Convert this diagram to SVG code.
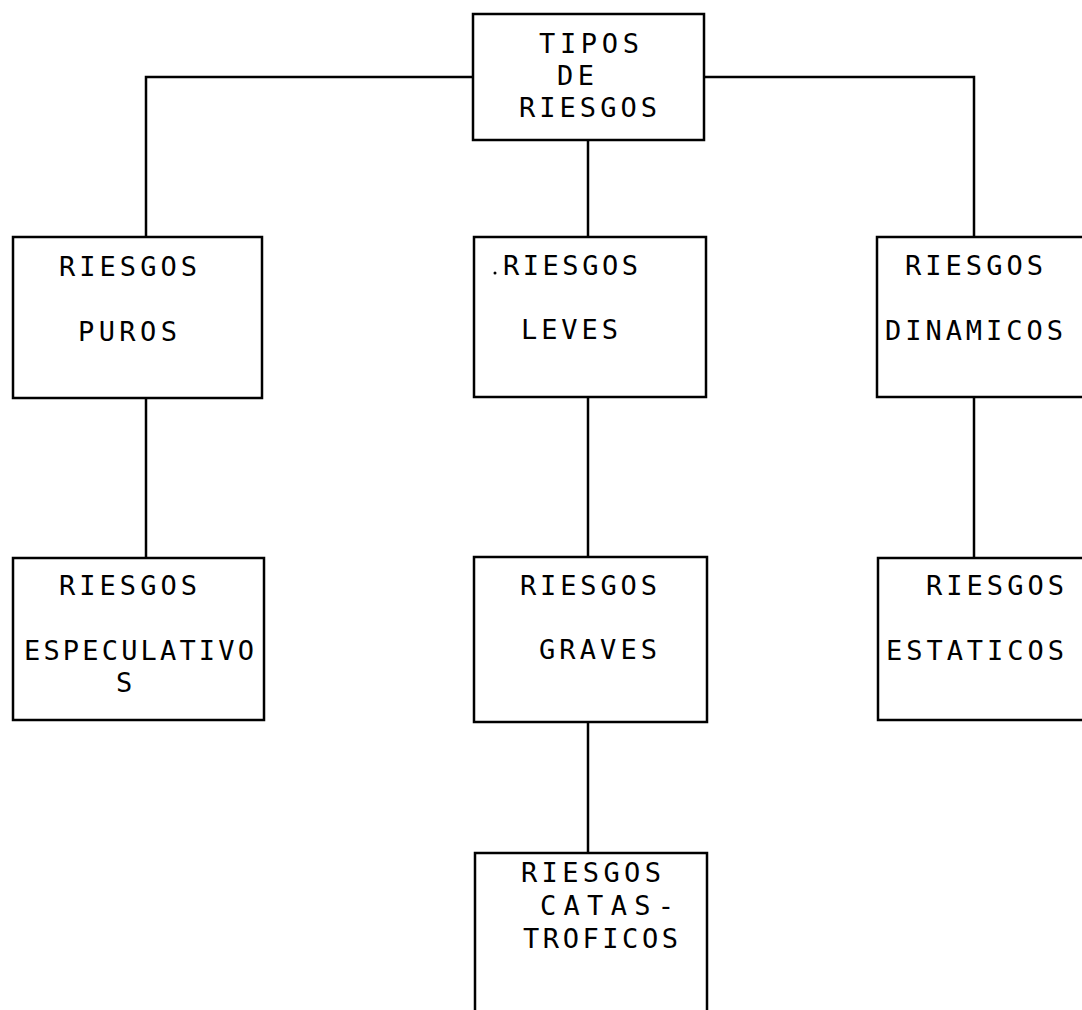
<svg xmlns="http://www.w3.org/2000/svg" width="1082" height="1010" viewBox="0 0 1082 1010">
  <style>
    .box { fill: #ffffff; stroke: #000000; stroke-width: 2.5; }
    .link { fill: none; stroke: #000000; stroke-width: 2.5; }
    .lbl { font-family: "DejaVu Sans Mono", "Liberation Mono", monospace; font-size: 27px; fill: #000000; }
  </style>
  <rect x="0" y="0" width="1082" height="1010" fill="#ffffff"/>

  <!-- connectors -->
  <g id="connectors">
    <polyline class="link" points="473,77 146,77 146,237"/>
    <polyline class="link" points="704,77 974,77 974,237"/>
    <line class="link" x1="588" y1="140" x2="588" y2="237"/>
    <line class="link" x1="146" y1="398" x2="146" y2="558"/>
    <line class="link" x1="588" y1="397" x2="588" y2="557"/>
    <line class="link" x1="974" y1="397" x2="974" y2="558"/>
    <line class="link" x1="588" y1="722" x2="588" y2="853"/>
  </g>

  <!-- root -->
  <g id="tipos-de-riesgos">
    <rect class="box" x="473" y="14" width="231" height="126"/>
    <text class="lbl" x="539" y="53" textLength="100" lengthAdjust="spacing">TIPOS</text>
    <text class="lbl" x="557" y="85" textLength="37" lengthAdjust="spacing">DE</text>
    <text class="lbl" x="519" y="117" textLength="138" lengthAdjust="spacing">RIESGOS</text>
  </g>

  <!-- second level -->
  <g id="riesgos-puros">
    <rect class="box" x="13" y="237" width="249" height="161"/>
    <text class="lbl" x="59" y="276" textLength="138" lengthAdjust="spacing">RIESGOS</text>
    <text class="lbl" x="78" y="341" textLength="99" lengthAdjust="spacing">PUROS</text>
  </g>

  <g id="riesgos-leves">
    <rect class="box" x="474" y="237" width="232" height="160"/>
    <circle cx="495" cy="273" r="1.5" fill="#000000"/>
    <text class="lbl" x="503" y="275" textLength="135" lengthAdjust="spacing">RIESGOS</text>
    <text class="lbl" x="521" y="339" textLength="97" lengthAdjust="spacing">LEVES</text>
  </g>

  <g id="riesgos-dinamicos">
    <rect class="box" x="877" y="237" width="215" height="160"/>
    <text class="lbl" x="905" y="275" textLength="138" lengthAdjust="spacing">RIESGOS</text>
    <text class="lbl" x="885" y="340" textLength="178" lengthAdjust="spacing">DINAMICOS</text>
  </g>

  <!-- third level -->
  <g id="riesgos-especulativos">
    <rect class="box" x="13" y="558" width="251" height="162"/>
    <text class="lbl" x="59" y="595" textLength="138" lengthAdjust="spacing">RIESGOS</text>
    <text class="lbl" x="24" y="660" textLength="230" lengthAdjust="spacing">ESPECULATIVO</text>
    <text class="lbl" x="116" y="692">S</text>
  </g>

  <g id="riesgos-graves">
    <rect class="box" x="474" y="557" width="233" height="165"/>
    <text class="lbl" x="520" y="595" textLength="137" lengthAdjust="spacing">RIESGOS</text>
    <text class="lbl" x="539" y="659" textLength="118" lengthAdjust="spacing">GRAVES</text>
  </g>

  <g id="riesgos-estaticos">
    <rect class="box" x="878" y="558" width="214" height="162"/>
    <text class="lbl" x="926" y="595" textLength="138" lengthAdjust="spacing">RIESGOS</text>
    <text class="lbl" x="886" y="660" textLength="178" lengthAdjust="spacing">ESTATICOS</text>
  </g>

  <!-- fourth level -->
  <g id="riesgos-catastroficos">
    <rect class="box" x="475" y="853" width="232" height="170"/>
    <text class="lbl" x="521" y="882" textLength="140" lengthAdjust="spacing">RIESGOS</text>
    <text class="lbl" x="540" y="915" textLength="134" lengthAdjust="spacing">CATAS-</text>
    <text class="lbl" x="523" y="948" textLength="155" lengthAdjust="spacing">TROFICOS</text>
  </g>
</svg>
